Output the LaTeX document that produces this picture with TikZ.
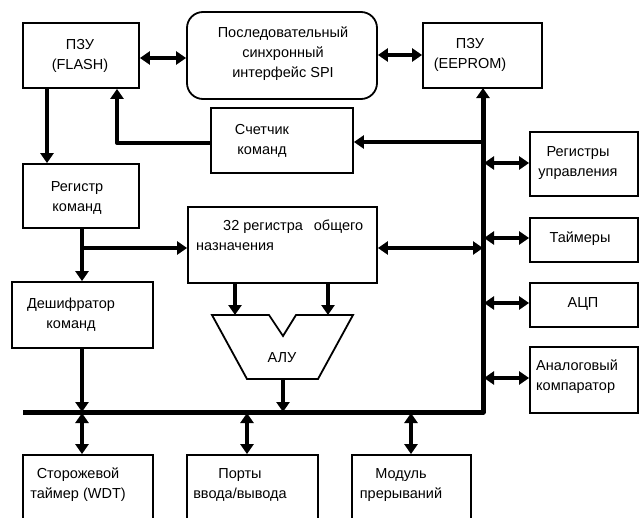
\documentclass[tikz,border=0pt]{standalone}
\usepackage{fontspec}
\setmainfont{Liberation Sans}
\usetikzlibrary{arrows.meta}
\begin{document}
\begin{tikzpicture}[x=1pt,y=-1pt,
  box/.style={draw, line width=1.8pt, rectangle, inner sep=0pt},
  lbl/.style={align=center, inner sep=0pt, font=\fontsize{14.5}{20}\selectfont},
  link/.style={line width=4pt},
  bus/.style={line width=5pt, line join=round},
  tip/.style={-{Triangle[length=10pt,width=13pt]}},
  tips/.style={{Triangle[length=10pt,width=13pt]}-{Triangle[length=10pt,width=13pt]}}]
\useasboundingbox (0,0) rectangle (640,517);
\begin{scope}
\clip (0,0) rectangle (640,517);
% memory and interface blocks
\node[box, minimum width=116pt, minimum height=65pt] (flash) at (81,55.5) {};
\node[lbl] (flashtxt) at (80,55.5) {ПЗУ\\(FLASH)};
\node[box, rounded corners=16pt, minimum width=190pt, minimum height=87pt] (spi) at (282,55.5) {};
\node[lbl] (spitxt) at (283,54) {Последовательный\\синхронный\\интерфейс SPI};
\node[box, minimum width=119pt, minimum height=65pt] (eeprom) at (482.5,55.5) {};
\node[lbl] (eepromtxt) at (470,54.5) {ПЗУ\\(EEPROM)};
% control path
\node[box, minimum width=142pt, minimum height=65pt] (counter) at (282,140.5) {};
\node[lbl] (countertxt) at (262,140.5) {Счетчик\\команд};
\node[box, minimum width=116pt, minimum height=64pt] (regcmd) at (81,196) {};
\node[lbl] (regcmdtxt) at (77,198) {Регистр\\команд};
\node[box, minimum width=141pt, minimum height=66pt] (dec) at (82.5,315) {};
\node[lbl] (dectxt) at (71,315) {Дешифратор\\команд};
% register file
\node[box, minimum width=189pt, minimum height=76pt] (gpr) at (282.5,245) {};
\node[lbl, anchor=west] (gprtxt1) at (223,227) {32 регистра\hspace{11pt}общего};
\node[lbl, anchor=west] (gprtxt2) at (196,247) {назначения};
% ALU
\draw[line width=1.8pt, line join=miter]
  (212,315) -- (269,315) -- (283,336) -- (296,315) -- (353,315)
  -- (318,379) -- (247,379) -- cycle;
\node[lbl] (alutxt) at (282,358) {АЛУ};
\coordinate (aluinA) at (235,315);
\coordinate (aluinB) at (328,315);
\coordinate (aluout) at (283,379);
% peripherals on the right
\node[box, minimum width=108pt, minimum height=64pt] (ctrl) at (584,164) {};
\node[lbl] (ctrltxt) at (578,163) {Регистры\\управления};
\node[box, minimum width=108pt, minimum height=44pt] (timers) at (584,240) {};
\node[lbl] (timerstxt) at (580,239) {Таймеры};
\node[box, minimum width=108pt, minimum height=44pt] (adc) at (584,305) {};
\node[lbl] (adctxt) at (583,304) {АЦП};
\node[box, minimum width=108pt, minimum height=66pt] (comp) at (584,380) {};
\node[lbl, align=left, anchor=west] (comptxt) at (536,377) {Аналоговый\\компаратор};
% peripherals at the bottom
\node[box, minimum width=130pt, minimum height=80pt] (wdt) at (88,495) {};
\node[lbl] (wdttxt) at (78,485) {Сторожевой\\таймер (WDT)};
\node[box, minimum width=131pt, minimum height=80pt] (ports) at (252.5,495) {};
\node[lbl] (portstxt) at (240,485) {Порты\\ввода/вывода};
\node[box, minimum width=119pt, minimum height=80pt] (irq) at (411.5,495) {};
\node[lbl] (irqtxt) at (401,485) {Модуль\\прерываний};
% bus
\coordinate (busL) at (23,412);
\coordinate (busC) at (483,412);
\coordinate (busT) at (483,88);
\draw[bus] (busL) -- (busC) -- (483,95);
\draw[link, tip] (483,100) -- (busT);
% connectors
\draw[link, tips] (flash.east |- 0,58) -- (spi.west |- 0,58);
\draw[link, tips] (spi.east |- 0,55) -- (eeprom.west |- 0,55);
\draw[link, tip] (flash.south -| 47,0) -- (regcmd.north -| 47,0);
\draw[link, tip, line join=round] (counter.west |- 0,143) -| (flash.south -| 117,0);
\draw[link, tip] (483,142) -- (counter.east |- 0,142);
\draw[link, tip] (regcmd.south -| 82,0) -- (dec.north -| 82,0);
\draw[link, tip] (82,248) -- (gpr.west |- 0,248);
\draw[link, tips] (gpr.east |- 0,248) -- (483,248);
\draw[link, tip] (gpr.south -| aluinA) -- (aluinA);
\draw[link, tip] (gpr.south -| aluinB) -- (aluinB);
\draw[link, tip] (aluout) -- (283,412);
\draw[link, tip] (dec.south -| 82,0) -- (82,412);
\draw[link, tips] (82,413) -- (wdt.north -| 82,0);
\draw[link, tips] (247,413) -- (ports.north -| 247,0);
\draw[link, tips] (411,413) -- (irq.north -| 411,0);
\draw[link, tips] (484,163) -- (ctrl.west |- 0,163);
\draw[link, tips] (484,238) -- (timers.west |- 0,238);
\draw[link, tips] (484,303) -- (adc.west |- 0,303);
\draw[link, tips] (484,378) -- (comp.west |- 0,378);
\end{scope}
\end{tikzpicture}
\end{document}
